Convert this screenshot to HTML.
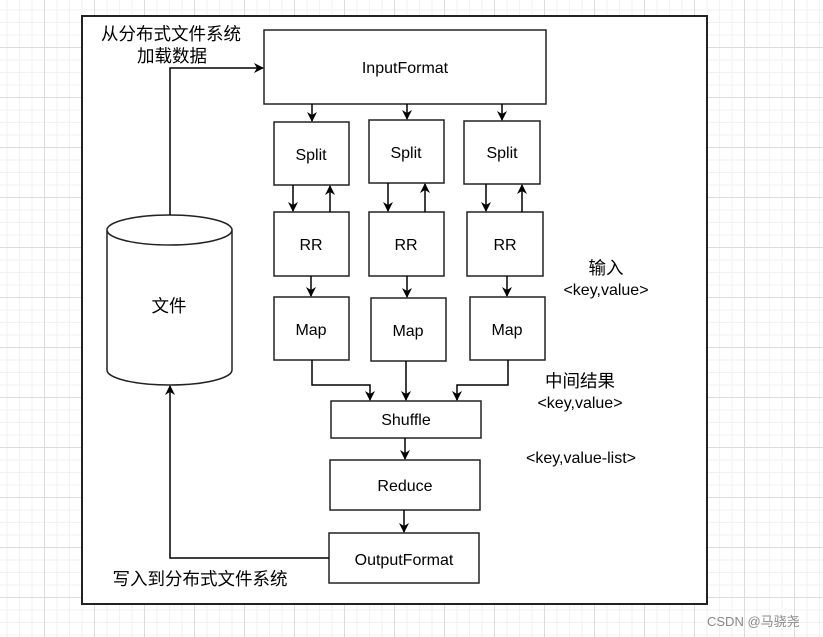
<!DOCTYPE html>
<html><head><meta charset="utf-8"><style>
body{margin:0;width:823px;height:637px;overflow:hidden;background:#fff;
background-image:linear-gradient(#dcdcdc 1px,transparent 1px),linear-gradient(90deg,#dcdcdc 1px,transparent 1px),linear-gradient(#f2f2f2 1px,transparent 1px),linear-gradient(90deg,#f2f2f2 1px,transparent 1px);
background-size:50px 50px,50px 50px,12.5px 12.5px,12.5px 12.5px;background-position:0 -3px,-6px 0,0 -3px,-6px 0;}
svg{position:absolute;left:0;top:0}
text{font-family:"Liberation Sans","Noto Sans CJK SC",sans-serif;font-size:16px;fill:#000}
.c{font-size:17.5px}
</style></head><body>
<svg width="823" height="637">
<defs><marker id="a" markerWidth="10" markerHeight="10" refX="9" refY="5" orient="auto" markerUnits="userSpaceOnUse"><path d="M0,0L10,5L0,10L3,5z" fill="#000"/></marker></defs>
<rect x="82" y="16" width="625" height="588" fill="#fff" stroke="#222" stroke-width="2"/>
<g fill="#fff" stroke="#222" stroke-width="1.5">
<rect x="264" y="30" width="282" height="74"/>
<rect x="274" y="122" width="75" height="63"/><rect x="369" y="120" width="75" height="63"/><rect x="464" y="121" width="76" height="63"/>
<rect x="274" y="212" width="75" height="64"/><rect x="369" y="212" width="75" height="64"/><rect x="467" y="212" width="76" height="64"/>
<rect x="274" y="297" width="75" height="63"/><rect x="371" y="298" width="75" height="63"/><rect x="470" y="297" width="75" height="63"/>
<rect x="331" y="401" width="150" height="37"/><rect x="330" y="460" width="150" height="50"/><rect x="329" y="533" width="150" height="50"/>
<path d="M107,230 L107,370 A62.5,15 0 0 0 232,370 L232,230"/>
<ellipse cx="169.5" cy="230" rx="62.5" ry="15"/>
</g>
<g stroke="#000" stroke-width="1.5" fill="none" marker-end="url(#a)">
<path d="M170,215 V68 H263"/>
<path d="M329,558 H170 V386"/>
<path d="M312,104 V121"/><path d="M407,104 V119"/><path d="M502,104 V120"/>
<path d="M293,185 V211"/><path d="M330,212 V186"/>
<path d="M388,183 V211"/><path d="M425,212 V184"/>
<path d="M486,184 V211"/><path d="M522,212 V185"/>
<path d="M311,276 V296"/><path d="M407,276 V297"/><path d="M507,276 V296"/>
<path d="M312,360 V385 H370 V400"/><path d="M406,361 V400"/><path d="M508,360 V385 H457 V400"/>
<path d="M405,438 V459"/><path d="M404,510 V532"/>
</g>
<g text-anchor="middle">
<text x="405" y="73">InputFormat</text>
<text x="311" y="160">Split</text><text x="406" y="158">Split</text><text x="502" y="158">Split</text>
<text x="311" y="250">RR</text><text x="406" y="250">RR</text><text x="505" y="250">RR</text>
<text x="311" y="335">Map</text><text x="408" y="336">Map</text><text x="507" y="335">Map</text>
<text x="406" y="425">Shuffle</text><text x="405" y="491">Reduce</text><text x="404" y="565">OutputFormat</text>
<text class="c" x="169" y="312">文件</text>
<text class="c" x="171" y="40">从分布式文件系统</text><text class="c" x="172" y="62">加载数据</text>
<text class="c" x="606" y="274">输入</text><text x="606" y="295">&lt;key,value&gt;</text>
<text class="c" x="580" y="387">中间结果</text><text x="580" y="408">&lt;key,value&gt;</text>
<text x="581" y="463">&lt;key,value-list&gt;</text>
<text class="c" x="200" y="585">写入到分布式文件系统</text>
</g>
<text x="707" y="626" style="font-size:13px;fill:#888">CSDN @马骁尧</text>
</svg>
</body></html>
